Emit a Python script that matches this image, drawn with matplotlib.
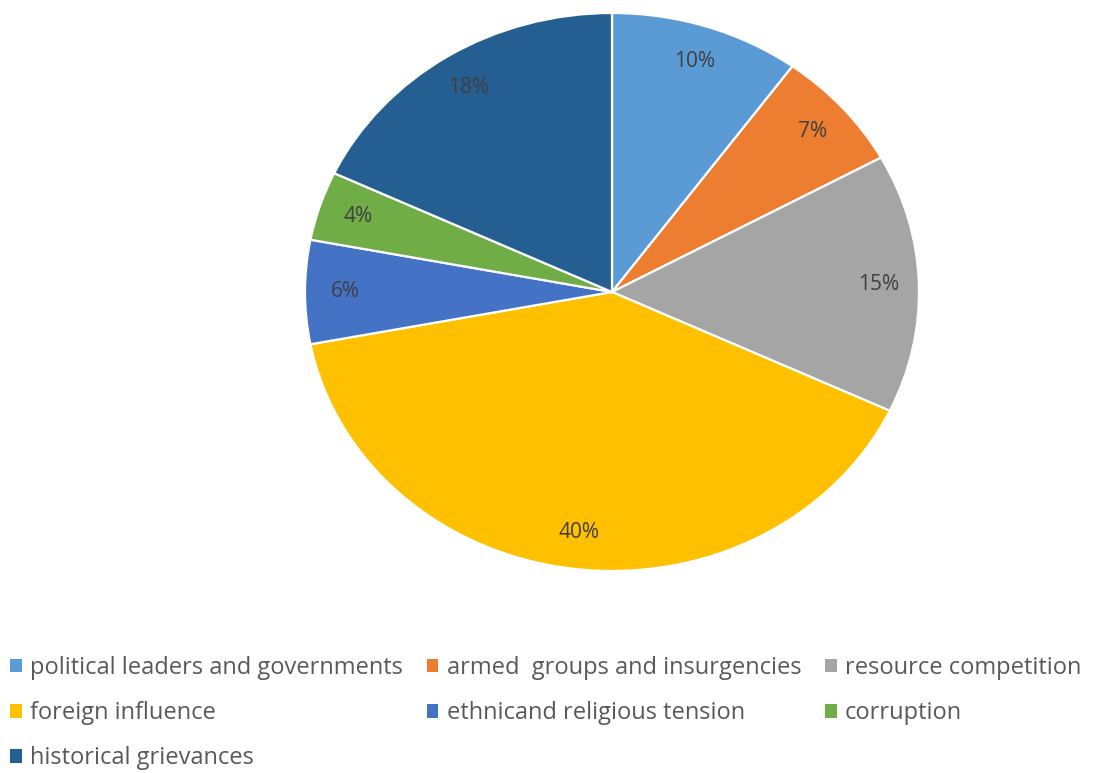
import matplotlib.pyplot as plt
from matplotlib.patches import Patch

# slice order is clockwise from 12 o'clock
categories = [
    "political leaders and governments",
    "armed  groups and insurgencies",
    "resource competition",
    "foreign influence",
    "ethnicand religious tension",
    "corruption",
    "historical grievances",
]
shares = [10, 7, 15, 40, 6, 4, 18]
colors = ["#5B9BD5", "#ED7D31", "#A5A5A5", "#FFC000", "#4472C4", "#70AD47", "#255E91"]

# legend is read row by row in the picture, matplotlib fills column by column
legend_order = [0, 3, 6, 1, 4, 2, 5]

plt.rcParams["font.family"] = ["Open Sans", "DejaVu Sans"]

fig = plt.figure(figsize=(10.94, 7.73), dpi=100)
ax = fig.add_axes([305 / 1094, 1 - 571 / 773, 614 / 1094, 558 / 773])

wedges, texts, autotexts = ax.pie(
    shares,
    colors=colors,
    startangle=90,
    counterclock=False,
    autopct="%1.0f%%",
    pctdistance=0.87,
    wedgeprops=dict(edgecolor="white", linewidth=1.6),
    textprops=dict(color="#404040", fontsize=15),
)
# the reference pie is a little wider than tall
ax.set_aspect("auto")
ax.set_xlim(-1, 1)
ax.set_ylim(-1, 1)

handles = [Patch(facecolor=colors[i], edgecolor="none") for i in legend_order]
labels = [categories[i] for i in legend_order]
fig.legend(
    handles, labels,
    loc="upper left", bbox_to_anchor=(10 / 1094, 1 - 656 / 773),
    ncol=3, frameon=False, fontsize=17,
    handlelength=0.5, handleheight=0.5, handletextpad=0.35,
    columnspacing=1.0, labelspacing=0.9, borderaxespad=0, borderpad=0,
    labelcolor="#595959",
)

fig.savefig("out.png", dpi=100)
